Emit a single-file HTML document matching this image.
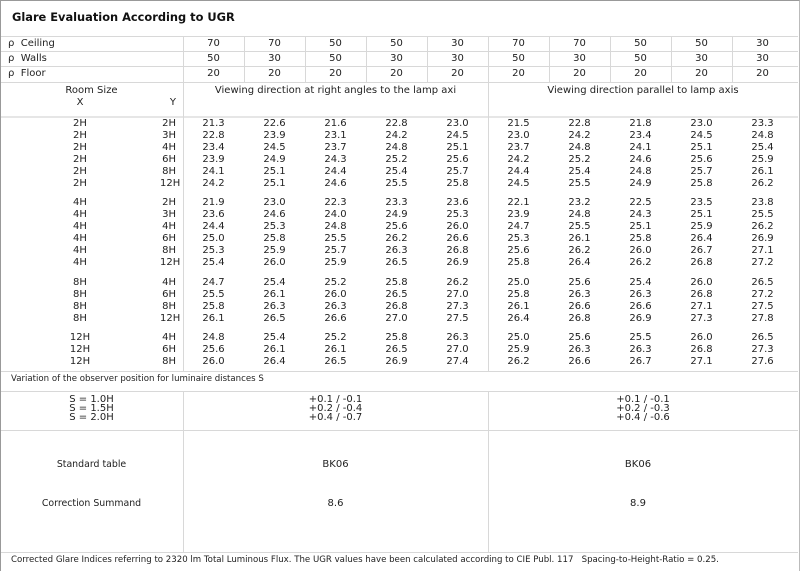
<!DOCTYPE html>
<html><head><meta charset="utf-8"><style>
body{margin:0;width:800px;height:571px;background:#fff;position:relative;overflow:hidden;font-family:"DejaVu Sans","Liberation Sans",sans-serif;font-size:10px;color:#222}
.a{position:absolute}
.h{position:absolute;left:1px;width:797px;height:1px;background:#d8d8d8}
.v{position:absolute;width:1px;background:#d8d8d8}
.r{position:absolute;left:0;height:12px;line-height:12px;white-space:nowrap}
.r span{display:inline-block;text-align:center;width:61px}
.r span:nth-child(1){width:160px}
.r span:nth-child(2){width:16px;text-align:right;margin-right:7px}
.t{position:absolute;left:0;width:800px;height:15px;line-height:15px;white-space:nowrap}
.t span{display:inline-block;text-align:center;width:61px}
.t span:first-child{width:183px;text-align:left;padding-left:8px;box-sizing:border-box}
</style></head><body>
<div class="a" style="left:0;top:0;width:798px;height:570px;border:1px solid #999;border-right-color:#bbb;border-bottom:none"></div>
<div class="a" style="left:12px;top:10px;font-size:11.4px;font-weight:bold;color:#111">Glare Evaluation According to UGR</div>
<div class="h" style="top:36px"></div><div class="h" style="top:51px"></div><div class="h" style="top:66px"></div><div class="h" style="top:82px"></div>
<div class="h" style="top:116px;height:2px;background:#e6e6e6"></div>
<div class="h" style="top:371px"></div><div class="h" style="top:391px"></div><div class="h" style="top:430px"></div><div class="h" style="top:552px"></div>
<div class="v" style="left:183px;top:36px;height:335px"></div>
<div class="v" style="left:488px;top:36px;height:335px"></div>
<div class="v" style="left:183px;top:391px;height:161px"></div>
<div class="v" style="left:488px;top:391px;height:161px"></div>
<div class="v" style="left:244px;top:36px;height:46px"></div><div class="v" style="left:305px;top:36px;height:46px"></div><div class="v" style="left:366px;top:36px;height:46px"></div><div class="v" style="left:427px;top:36px;height:46px"></div><div class="v" style="left:549px;top:36px;height:46px"></div><div class="v" style="left:610px;top:36px;height:46px"></div><div class="v" style="left:671px;top:36px;height:46px"></div><div class="v" style="left:732px;top:36px;height:46px"></div>
<div class="t" style="top:36px"><span>ρ&nbsp; Ceiling</span><span>70</span><span>70</span><span>50</span><span>50</span><span>30</span><span>70</span><span>70</span><span>50</span><span>50</span><span>30</span></div>
<div class="t" style="top:51px"><span>ρ&nbsp; Walls</span><span>50</span><span>30</span><span>50</span><span>30</span><span>30</span><span>50</span><span>30</span><span>50</span><span>30</span><span>30</span></div>
<div class="t" style="top:66px"><span>ρ&nbsp; Floor</span><span>20</span><span>20</span><span>20</span><span>20</span><span>20</span><span>20</span><span>20</span><span>20</span><span>20</span><span>20</span></div>
<div class="a" style="left:0;width:183px;top:85px;text-align:center">Room Size</div>
<div class="a" style="left:0;width:160px;top:97px;text-align:center">X</div>
<div class="a" style="left:160px;width:16px;top:97px;text-align:right">Y</div>
<div class="a" style="left:183px;width:305px;top:85px;text-align:center">Viewing direction at right angles to the lamp axi</div>
<div class="a" style="left:488px;width:310px;top:85px;text-align:center">Viewing direction parallel to lamp axis</div>
<div class="r" style="top:118px"><span>2H</span><span>2H</span><span>21.3</span><span>22.6</span><span>21.6</span><span>22.8</span><span>23.0</span><span>21.5</span><span>22.8</span><span>21.8</span><span>23.0</span><span>23.3</span></div>
<div class="r" style="top:130px"><span>2H</span><span>3H</span><span>22.8</span><span>23.9</span><span>23.1</span><span>24.2</span><span>24.5</span><span>23.0</span><span>24.2</span><span>23.4</span><span>24.5</span><span>24.8</span></div>
<div class="r" style="top:142px"><span>2H</span><span>4H</span><span>23.4</span><span>24.5</span><span>23.7</span><span>24.8</span><span>25.1</span><span>23.7</span><span>24.8</span><span>24.1</span><span>25.1</span><span>25.4</span></div>
<div class="r" style="top:154px"><span>2H</span><span>6H</span><span>23.9</span><span>24.9</span><span>24.3</span><span>25.2</span><span>25.6</span><span>24.2</span><span>25.2</span><span>24.6</span><span>25.6</span><span>25.9</span></div>
<div class="r" style="top:166px"><span>2H</span><span>8H</span><span>24.1</span><span>25.1</span><span>24.4</span><span>25.4</span><span>25.7</span><span>24.4</span><span>25.4</span><span>24.8</span><span>25.7</span><span>26.1</span></div>
<div class="r" style="top:178px"><span>2H</span><span>12H</span><span>24.2</span><span>25.1</span><span>24.6</span><span>25.5</span><span>25.8</span><span>24.5</span><span>25.5</span><span>24.9</span><span>25.8</span><span>26.2</span></div>
<div class="r" style="top:197px"><span>4H</span><span>2H</span><span>21.9</span><span>23.0</span><span>22.3</span><span>23.3</span><span>23.6</span><span>22.1</span><span>23.2</span><span>22.5</span><span>23.5</span><span>23.8</span></div>
<div class="r" style="top:209px"><span>4H</span><span>3H</span><span>23.6</span><span>24.6</span><span>24.0</span><span>24.9</span><span>25.3</span><span>23.9</span><span>24.8</span><span>24.3</span><span>25.1</span><span>25.5</span></div>
<div class="r" style="top:221px"><span>4H</span><span>4H</span><span>24.4</span><span>25.3</span><span>24.8</span><span>25.6</span><span>26.0</span><span>24.7</span><span>25.5</span><span>25.1</span><span>25.9</span><span>26.2</span></div>
<div class="r" style="top:233px"><span>4H</span><span>6H</span><span>25.0</span><span>25.8</span><span>25.5</span><span>26.2</span><span>26.6</span><span>25.3</span><span>26.1</span><span>25.8</span><span>26.4</span><span>26.9</span></div>
<div class="r" style="top:245px"><span>4H</span><span>8H</span><span>25.3</span><span>25.9</span><span>25.7</span><span>26.3</span><span>26.8</span><span>25.6</span><span>26.2</span><span>26.0</span><span>26.7</span><span>27.1</span></div>
<div class="r" style="top:257px"><span>4H</span><span>12H</span><span>25.4</span><span>26.0</span><span>25.9</span><span>26.5</span><span>26.9</span><span>25.8</span><span>26.4</span><span>26.2</span><span>26.8</span><span>27.2</span></div>
<div class="r" style="top:277px"><span>8H</span><span>4H</span><span>24.7</span><span>25.4</span><span>25.2</span><span>25.8</span><span>26.2</span><span>25.0</span><span>25.6</span><span>25.4</span><span>26.0</span><span>26.5</span></div>
<div class="r" style="top:289px"><span>8H</span><span>6H</span><span>25.5</span><span>26.1</span><span>26.0</span><span>26.5</span><span>27.0</span><span>25.8</span><span>26.3</span><span>26.3</span><span>26.8</span><span>27.2</span></div>
<div class="r" style="top:301px"><span>8H</span><span>8H</span><span>25.8</span><span>26.3</span><span>26.3</span><span>26.8</span><span>27.3</span><span>26.1</span><span>26.6</span><span>26.6</span><span>27.1</span><span>27.5</span></div>
<div class="r" style="top:313px"><span>8H</span><span>12H</span><span>26.1</span><span>26.5</span><span>26.6</span><span>27.0</span><span>27.5</span><span>26.4</span><span>26.8</span><span>26.9</span><span>27.3</span><span>27.8</span></div>
<div class="r" style="top:332px"><span>12H</span><span>4H</span><span>24.8</span><span>25.4</span><span>25.2</span><span>25.8</span><span>26.3</span><span>25.0</span><span>25.6</span><span>25.5</span><span>26.0</span><span>26.5</span></div>
<div class="r" style="top:344px"><span>12H</span><span>6H</span><span>25.6</span><span>26.1</span><span>26.1</span><span>26.5</span><span>27.0</span><span>25.9</span><span>26.3</span><span>26.3</span><span>26.8</span><span>27.3</span></div>
<div class="r" style="top:356px"><span>12H</span><span>8H</span><span>26.0</span><span>26.4</span><span>26.5</span><span>26.9</span><span>27.4</span><span>26.2</span><span>26.6</span><span>26.7</span><span>27.1</span><span>27.6</span></div>
<div class="a" style="left:11px;top:374px;font-size:8.6px">Variation of the observer position for luminaire distances S</div>
<div class="a" style="left:0;width:183px;top:395px;text-align:center;line-height:9px">S = 1.0H<br>S = 1.5H<br>S = 2.0H</div>
<div class="a" style="left:183px;width:305px;top:395px;text-align:center;line-height:9px">+0.1 / -0.1<br>+0.2 / -0.4<br>+0.4 / -0.7</div>
<div class="a" style="left:488px;width:310px;top:395px;text-align:center;line-height:9px">+0.1 / -0.1<br>+0.2 / -0.3<br>+0.4 / -0.6</div>
<div class="a" style="left:0;width:183px;top:459px;text-align:center;font-size:9.4px">Standard table</div>
<div class="a" style="left:183px;width:305px;top:459px;text-align:center">BK06</div>
<div class="a" style="left:488px;width:300px;top:459px;text-align:center">BK06</div>
<div class="a" style="left:0;width:183px;top:498px;text-align:center;font-size:9.4px">Correction Summand</div>
<div class="a" style="left:183px;width:305px;top:498px;text-align:center">8.6</div>
<div class="a" style="left:488px;width:300px;top:498px;text-align:center">8.9</div>
<div class="a" style="left:11px;top:555px;font-size:8.6px;white-space:pre">Corrected Glare Indices referring to 2320 lm Total Luminous Flux. The UGR values have been calculated according to CIE Publ. 117   Spacing-to-Height-Ratio = 0.25.</div>
</body></html>
